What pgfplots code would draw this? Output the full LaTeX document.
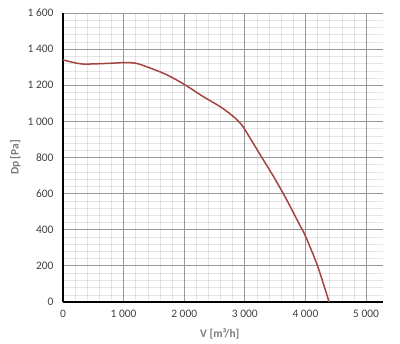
\documentclass[border=0pt]{standalone}
\usepackage{pgfplots}
\pgfplotsset{compat=1.18}
\usepackage{fontspec}
\setmainfont{Carlito}
\definecolor{curve}{HTML}{A5443F}
\definecolor{ticktext}{HTML}{404040}
\definecolor{labtext}{HTML}{7A7A7A}
\begin{document}
\begin{tikzpicture}
\begin{axis}[
  scale only axis,
  width=320bp, height=289bp,
  xmin=0, xmax=5280, ymin=0, ymax=1600,
  axis x line=bottom, axis y line=left,
  axis line style={-, black, line width=1.2pt},
  xtick={0,1000,2000,3000,4000,5000},
  ytick={0,200,400,600,800,1000,1200,1400,1600},
  minor x tick num=4, minor y tick num=4,
  major tick length=0pt, minor tick length=0pt,
  grid=both,
  major grid style={draw=gray!80, line width=0.8pt},
  minor grid style={draw=black, draw opacity=0.1, line width=0.5pt},
  /pgf/number format/assume math mode=true,
  /pgf/number format/1000 sep={\ },
  ticklabel style={font=\fontsize{11.5}{13}\selectfont, text=ticktext},
  xticklabel style={yshift=-5bp},
  yticklabel style={xshift=-6bp},
  xlabel={V [m³/h]}, ylabel={Dp [Pa]},
  label style={font=\bfseries\fontsize{11.5}{13}\selectfont, text=labtext},
  xlabel style={at={(axis description cs:0.49,0)}, anchor=north, yshift=-23bp},
  ylabel style={at={(axis description cs:0,0.5)}, anchor=south, yshift=39bp},
  clip=false,
]
\addplot[curve, line width=1.5pt, smooth] coordinates {
(0,1340) (150,1328) (300,1318) (500,1318) (800,1322) (1000,1325) (1200,1322)
(1400,1300) (1700,1260) (2000,1205) (2300,1140) (2600,1080) (2800,1030)
(2950,980) (3100,900) (3300,790) (3500,680) (3700,560) (3900,430) (4000,365)
(4200,200) (4390,0)
};
\end{axis}
\path[use as bounding box] (current axis.south west) ++(-63bp,-42bp) rectangle ++(400bp,344bp);
\end{tikzpicture}
\end{document}
